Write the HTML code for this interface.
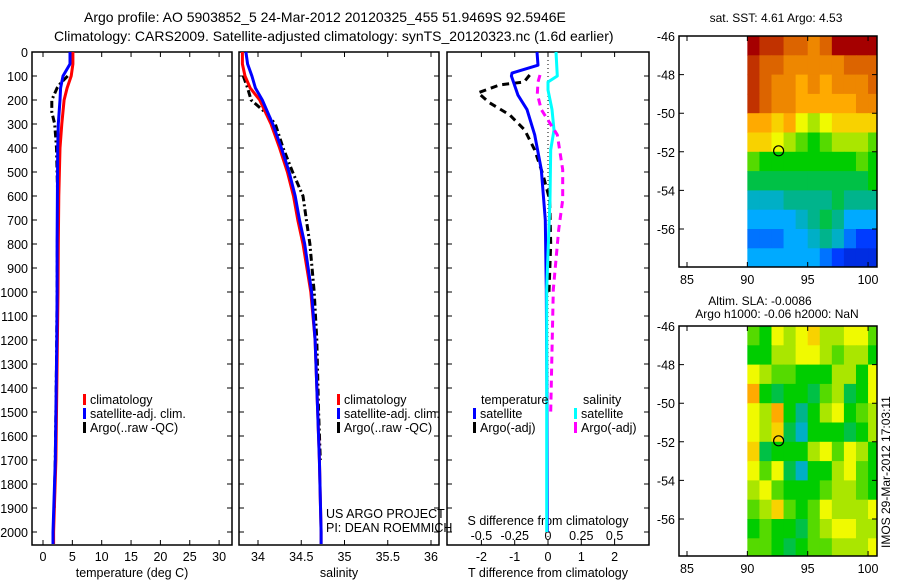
<!DOCTYPE html>
<html><head><meta charset="utf-8">
<style>
html,body{margin:0;padding:0;background:#fff;}
svg{display:block;font-family:"Liberation Sans",sans-serif;}
text{font-size:12.5px;fill:#000;}
</style></head>
<body>
<svg id="chart" width="900" height="580" viewBox="0 0 900 580" xmlns="http://www.w3.org/2000/svg">
<text x="84" y="22" style="font-size:14px">Argo profile: AO 5903852_5 24-Mar-2012 20120325_455 51.9469S 92.5946E</text>
<text x="54" y="41" style="font-size:14px">Climatology: CARS2009. Satellite-adjusted climatology: synTS_20120323.nc (1.6d earlier)</text>
<g id="g"></g>
</svg>
<script>
// ---- data ----
const depthTemp = [0,50,100,150,200,300,400,600,800,1000,1200,1500,1700,2000,2050];
const tempClim  = [5.1,5.1,4.8,4.1,3.6,3.2,2.9,2.7,2.6,2.55,2.45,2.3,2.2,1.8,1.8];
const tempSat   = [4.6,4.6,3.4,3.0,2.9,2.6,2.5,2.45,2.4,2.4,2.35,2.2,2.1,1.7,1.7];
const depthArgoT = [100,130,150,200,250,300,400,600,800,1000,1300,1500,1700,1900];
const tempArgo  = [4.2,3.0,2.4,1.5,1.5,2.0,2.3,2.5,2.45,2.4,2.3,2.2,2.1,1.9];
const depthSal = [0,50,100,150,200,300,400,500,600,700,800,1000,1200,1500,1700,2000,2050];
const salClim = [33.82,33.82,33.85,33.91,34.02,34.15,34.25,34.34,34.41,34.46,34.52,34.61,34.66,34.69,34.71,34.73,34.73];
const salSat  = [33.86,33.88,33.93,33.97,34.05,34.17,34.27,34.36,34.43,34.48,34.54,34.62,34.66,34.69,34.71,34.73,34.73];
const depthArgoS = [100,150,200,250,300,400,500,600,700,800,1000,1200,1500,1700];
const salArgo = [33.83,33.88,33.92,34.08,34.20,34.29,34.40,34.52,34.56,34.60,34.65,34.68,34.70,34.72];
const depthDT = [0,55,88,100,180,240,345,490,700,990,1500,2000];
const dTsat = [-0.33,-0.3,-1.08,-1.1,-0.9,-0.63,-0.4,-0.2,-0.08,-0.05,-0.03,-0.02];
const depthDTa = [96,125,137,170,212,262,325,408,512,616,800,1000];
const dTargo = [-0.55,-0.72,-1.45,-2.1,-1.75,-1.15,-0.7,-0.4,-0.15,0.05,0.08,0.03];
const depthDS = [0,100,125,158,240,325,408,616,990,1500,2000];
const dSsat = [0.06,0.07,0.0,0.0,0.03,0.045,0.02,0.015,-0.01,-0.01,-0.01];
const depthDSa = [96,125,175,240,345,490,616,740,990,1500];
const dSargo = [-0.06,-0.075,-0.08,-0.05,0.07,0.11,0.11,0.08,0.04,0.02];
const depthTicks = [0,100,200,300,400,500,600,700,800,900,1000,1100,1200,1300,1400,1500,1600,1700,1800,1900,2000];
const tempTicks = [0,5,10,15,20,25,30];
const salTicks = [34,34.5,35,35.5,36];
const salTickLabels = ["34","34.5","35","35.5","36"];
const dTTicks = [-2,-1,0,1,2];
const dSTicks = [-0.5,-0.25,0,0.25,0.5];
const dSTickLabels = ["-0.5","-0.25","0","0.25","0.5"];
const lonTicks = [85,90,95,100];
const latTicks = [-46,-48,-50,-52,-54,-56];
const gridLons = [90,91,92,93,94,95,96,97,98,99,100];
const gridLats = [-46,-47,-48,-49,-50,-51,-52,-53,-54,-55,-56,-57];
const sstGrid = [
[9.5,9,9,8.5,8.5,8,8.5,9.5,9.5,9.5,9.5],
[9,8.5,8.5,8,8,8,8,8,8.5,8.5,8.5],
[9,8.5,8,8,7.5,8,7.5,8,8,8,8.5],
[9,8.5,8,8,7.5,7.5,7.5,7.5,7.5,8,8],
[7.5,7.5,7,7.5,6.5,6,6.5,7,7,7,7],
[7,7,6.5,6,5.5,5,5.5,6,6,6,5.5],
[5.5,5,5,5,5,5,5,5,5,5.5,5],
[4.5,4.5,4.5,4.5,4.5,4.5,4.5,4.5,4.5,4.5,5],
[3.5,3.5,3.5,4,4,4,4,4.5,4,4,4],
[3,3,3,3,3.5,4,4.5,4,3,3,3],
[2.5,2.5,2.5,3,3,3.5,4,3.5,2.5,2,2],
[3,3,3,3,3,3,2.5,2,1.5,1.5,1.5]];
const slaGrid = [
[5.5,5,6.5,6,6.5,7,6,6,6.5,6.5,5.5],
[5,5,6,6,6.5,6.5,6,5.5,6,6,5],
[6.5,6,5.5,5.5,5,5,5,6,6,5,6.5],
[7.5,5,4.5,5,5,4.5,5.5,6,4.5,5,6.5],
[6.5,6,7.5,5,4,5,6,6.5,5,5.5,6],
[6.5,6,7,4.5,3.5,5,5,5,4.5,5,6],
[7,4.5,5,5,5,6,6.5,5.5,6.5,6,5],
[6.5,5.5,6.5,4.5,3.5,5,5,6,6.5,5.5,5],
[6,6.5,5.5,5,5,5,5.5,6,6,5.5,5],
[5.5,6,7,5.5,5,5.5,6.5,6,6,6,6.5],
[5,5.5,5,5,4.5,5.5,6,6.5,6.5,6,6],
[5.5,5.5,5,4.5,5,5.5,5.5,6,6,6,6.5]];
const argoLon = 92.59, argoLat = -51.95;

// ---- helpers ----
const NS="http://www.w3.org/2000/svg";
const G=document.getElementById('g');
function mk(tag,attrs,txt){const e=document.createElementNS(NS,tag);for(const k in attrs)e.setAttribute(k,attrs[k]);if(txt!==undefined)e.textContent=txt;G.appendChild(e);return e;}
const Y0=52, PY=0.24, YB=545;
const yD=d=>Y0+d*PY;
const xT=v=>43+v*5.87;
const xS=v=>258+(v-34)*86.5;
const xDT=v=>548+v*33.3;
const xDS=v=>548+v*133.2;
const lonX=v=>687+(v-85)*12.07;
const latY1=v=>36+(-46-v)*19.3;
const latY2=v=>326+(-46-v)*19.3;

const panels=[{x0:32,x1:232,n:'temperature-panel'},{x0:239,x1:439,n:'salinity-panel'},{x0:447,x1:649,n:'difference-panel'}];
panels.forEach(p=>{
  const r=mk('rect',{x:p.x0,y:Y0,width:p.x1-p.x0,height:YB-Y0,fill:'none',stroke:'#000','stroke-width':1.5});
  
  
  depthTicks.forEach(d=>{
    const t=mk('path',{d:`M${p.x0} ${yD(d)}h5M${p.x1} ${yD(d)}h-5`,stroke:'#000','stroke-width':1});
    
    
  });
});
depthTicks.forEach(d=>{
  const t=mk('text',{x:28,y:yD(d)+5,'text-anchor':'end'},String(d));
  
  
});
function xticks(vals,labels,fx,p,ly){
  vals.forEach((v,i)=>{
    const x=fx(v);
    const t=mk('path',{d:`M${x} ${YB}v-5M${x} ${Y0}v5`,stroke:'#000'});
    
    
    const l=mk('text',{x:x,y:ly,'text-anchor':'middle'},labels[i]);
    
    
  });
}
xticks(tempTicks,tempTicks.map(String),xT,panels[0],561);
xticks(salTicks,salTickLabels,xS,panels[1],561);
xticks(dTTicks,dTTicks.map(String),xDT,panels[2],561);
dSTicks.forEach((v,i)=>{
  const l=mk('text',{x:xDS(v),y:540,'text-anchor':'middle'},dSTickLabels[i]);
  
  
});
[[132,'temperature (deg C)','x-axis-title-temperature'],[339,'salinity','x-axis-title-salinity'],[548,'T difference from climatology','x-axis-title-t-diff']].forEach(a=>{
  const t=mk('text',{x:a[0],y:577,'text-anchor':'middle'},a[1]);
  
  
});
const st=mk('text',{x:548,y:525,'text-anchor':'middle'},'S difference from climatology');



const zl=mk('line',{x1:548,x2:548,y1:Y0,y2:YB,stroke:'#000','stroke-dasharray':'1,3'});



function line(depths,vals,fx,color,dash,name){
  const pts=depths.map((d,i)=>fx(vals[i]).toFixed(1)+','+yD(d).toFixed(1)).join(' ');
  const a={points:pts,fill:'none',stroke:color,'stroke-width':3,'stroke-linejoin':'round'};
  if(dash)a['stroke-dasharray']=dash;
  const e=mk('polyline',a);
  
  
}
line(depthArgoT,tempArgo,xT,'#000','7,3,2,3','temp-argo-line');
line(depthTemp,tempClim,xT,'#f00',null,'temp-climatology-line');
line(depthTemp,tempSat,xT,'#00f',null,'temp-satellite-line');
line(depthArgoS,salArgo,xS,'#000','7,3,2,3','sal-argo-line');
line(depthSal,salClim,xS,'#f00',null,'sal-climatology-line');
line(depthSal,salSat,xS,'#00f',null,'sal-satellite-line');
line(depthDTa,dTargo,xDT,'#000','7,5','t-diff-argo-line');
line(depthDT,dTsat,xDT,'#00f',null,'t-diff-satellite-line');
line(depthDS,dSsat,xDS,'#0ff',null,'s-diff-satellite-line');
line(depthDSa,dSargo,xDS,'#f0f','7,5','s-diff-argo-line');

function leg(x,y,color,label,name){
  const r=mk('rect',{x:x,y:y-10,width:3,height:11,fill:color});
  
  
  const t=mk('text',{x:x+7,y:y},label);
  
  
}
leg(83,404,'#f00','climatology','legend-t-climatology');
leg(83,418,'#00f','satellite-adj. clim.','legend-t-satellite');
leg(83,432,'#000','Argo(..raw -QC)','legend-t-argo');
leg(337,404,'#f00','climatology','legend-s-climatology');
leg(337,418,'#00f','satellite-adj. clim.','legend-s-satellite');
leg(337,432,'#000','Argo(..raw -QC)','legend-s-argo');
leg(473,418,'#00f','satellite','legend-dt-satellite');
leg(473,432,'#000','Argo(-adj)','legend-dt-argo');
leg(574,418,'#0ff','satellite','legend-ds-satellite');
leg(574,432,'#f0f','Argo(-adj)','legend-ds-argo');
[[481,404,'temperature','legend-heading-temperature'],[583,404,'salinity','legend-heading-salinity'],[326,518,'US ARGO PROJECT','project-credit'],[326,532,'PI: DEAN ROEMMICH','pi-credit']].forEach(a=>{
  const t=mk('text',{x:a[0],y:a[1]},a[2]);
  
  
});

// ---- maps ----
const cmapStops=[[0,[0,0,140]],[2,[0,60,255]],[3,[0,170,255]],[4,[0,180,140]],[5,[0,205,0]],[6,[170,230,0]],[6.5,[240,250,0]],[7.5,[255,170,0]],[8.5,[220,100,0]],[9.5,[165,0,0]],[10,[140,0,0]]];
function cmap(v){
  for(let i=1;i<cmapStops.length;i++){
    if(v<=cmapStops[i][0]){const a=cmapStops[i-1],b=cmapStops[i];const t=(v-a[0])/(b[0]-a[0]);
      return 'rgb('+a[1].map((c,k)=>Math.round(c+(b[1][k]-c)*t)).join(',')+')';}
  }
  return 'rgb(140,0,0)';
}
function map(grid,latY,top,bot,name){
  grid.forEach((row,i)=>row.forEach((v,j)=>{
    const x0=lonX(gridLons[j]), x1=Math.min(lonX(gridLons[j]+1),877);
    const y0=Math.max(latY(gridLats[i]),top), y1=Math.min(latY(gridLats[i]-1),bot);
    const c=mk('rect',{x:x0,y:y0,width:x1-x0+0.5,height:y1-y0+0.5,fill:cmap(v)});
    
    
  }));
  const f=mk('rect',{x:679,y:top,width:198,height:bot-top,fill:'none',stroke:'#000','stroke-width':1.5});
  
  
  const m=mk('circle',{cx:lonX(argoLon),cy:latY(argoLat),r:5,fill:'none',stroke:'#000','stroke-width':1.2});
  
  
  latTicks.forEach(v=>{
    const y=latY(v);
    const t=mk('path',{d:`M679 ${y}h5M877 ${y}h-5`,stroke:'#000'});
    
    
    const l=mk('text',{x:675,y:y+5,'text-anchor':'end'},String(v));
    
    
  });
  lonTicks.forEach(v=>{
    const x=lonX(v);
    const t=mk('path',{d:`M${x} ${bot}v-5M${x} ${top}v5`,stroke:'#000'});
    
    
    const l=mk('text',{x:x,y:bot+17,'text-anchor':'middle'},String(v));
    
    
  });
}
map(sstGrid,latY1,36,267,'sst-map');
map(slaGrid,latY2,326,556,'sla-map');
[[776,22,'sat. SST: 4.61  Argo: 4.53','sst-map-title'],[760,305,'Altim. SLA: -0.0086','sla-map-title'],[777,318,'Argo h1000: -0.06 h2000: NaN','sla-map-subtitle']].forEach(a=>{
  const t=mk('text',{x:a[0],y:a[1],'text-anchor':'middle',style:'font-size:12px'},a[2]);
  
  
});
const im=mk('text',{x:0,y:0,transform:'translate(890,548) rotate(-90)',style:'font-size:12px'},'IMOS 29-Mar-2012 17:03:11');


</script>
</body></html>
